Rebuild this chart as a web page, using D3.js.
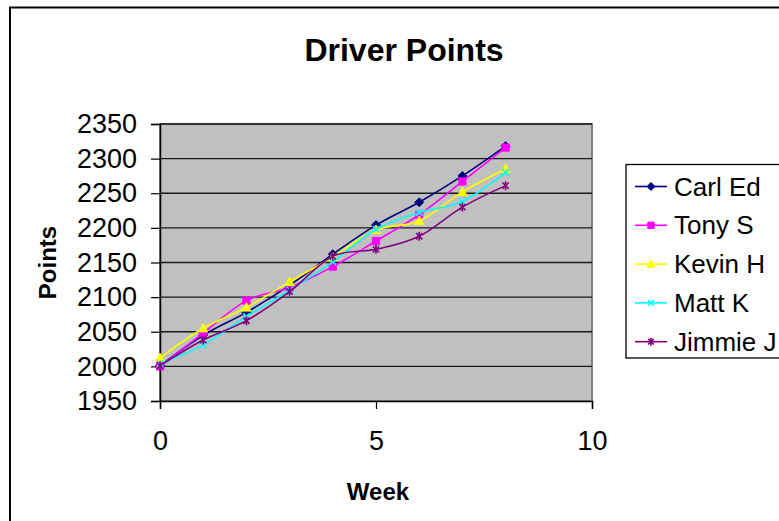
<!DOCTYPE html>
<html>
<head>
<meta charset="utf-8">
<script src="https://cdn.jsdelivr.net/npm/d3@7"></script>
<style>
  html, body { margin: 0; padding: 0; background: #fff; }
  svg { display: block; font-family: "Liberation Sans", Arial, sans-serif; }
</style>
</head>
<body>
<svg id="chart" width="779" height="521"></svg>
<script>
const weeks = [0, 1, 2, 3, 4, 5, 6, 7, 8];
const seriesNames = ["Carl Ed", "Tony S", "Kevin H", "Matt K", "Jimmie J"];
const carlEd  = [2001, 2045, 2078, 2117, 2162, 2204, 2237, 2275, 2318];
const tonyS   = [2000, 2048, 2095, 2114, 2144, 2181, 2219, 2267, 2316];
const kevinH  = [2012, 2055, 2085, 2122, 2158, 2197, 2210, 2252, 2285];
const mattK   = [2004, 2031, 2072, 2110, 2151, 2198, 2222, 2238, 2280];
const jimmieJ = [2001, 2038, 2066, 2108, 2159, 2169, 2188, 2230, 2261];
const xTicks = [0, 5, 10];
const yTicks = [1950, 2000, 2050, 2100, 2150, 2200, 2250, 2300, 2350];

const seriesValues = [carlEd, tonyS, kevinH, mattK, jimmieJ];
const colors = ["#000080", "#FF00FF", "#FFFF00", "#00FFFF", "#800080"];
const markerTypes = ["diamond", "square", "triangle", "x", "star"];

const svg = d3.select("#chart");

// outer chart border (right and bottom cut off)
svg.append("rect").attr("x", 10).attr("y", 7.5).attr("width", 900).attr("height", 600)
  .attr("fill", "#fff").attr("stroke", "#000").attr("stroke-width", 2);

const x = d3.scaleLinear().domain([0, 10]).range([160, 592]);
const y = d3.scaleLinear().domain([1950, 2350]).range([401, 124]);

// plot area
svg.append("rect").attr("x", x(0)).attr("y", y(2350)).attr("width", x(10) - x(0)).attr("height", y(1950) - y(2350))
  .attr("fill", "#C0C0C0").attr("stroke", "#808080").attr("stroke-width", 2);

// gridlines
svg.append("g").selectAll("line").data(yTicks.filter(d => d > 1950)).join("line")
  .attr("x1", x(0)).attr("x2", x(10)).attr("y1", d => y(d)).attr("y2", d => y(d))
  .attr("stroke", "#1a1a1a").attr("stroke-width", 1.3);

// y axis
const yAxis = d3.axisLeft(y).tickValues(yTicks).tickSize(9).tickPadding(14).tickFormat(d3.format("d"));
const gy = svg.append("g").attr("transform", `translate(${x(0)},0)`).call(yAxis);
gy.select(".domain").attr("stroke", "#000").attr("stroke-width", 1.5);
gy.selectAll(".tick line").attr("stroke", "#000").attr("stroke-width", 1.2);
gy.selectAll(".tick text").attr("font-size", 27).attr("fill", "#000").attr("font-family", "Liberation Sans, Arial, sans-serif");

// x axis
const xAxis = d3.axisBottom(x).tickValues(xTicks).tickSize(8).tickPadding(22).tickFormat(d3.format("d"));
const gx = svg.append("g").attr("transform", `translate(0,${y(1950)})`).call(xAxis);
gx.select(".domain").attr("stroke", "#000").attr("stroke-width", 1.5);
gx.selectAll(".tick line").attr("stroke", "#000").attr("stroke-width", 1.2);
gx.selectAll(".tick text").attr("font-size", 27).attr("fill", "#000").attr("font-family", "Liberation Sans, Arial, sans-serif");

// marker path generator
function markerPath(type, s) {
  switch (type) {
    case "diamond": return `M0,${-s}L${s},0L0,${s}L${-s},0Z`;
    case "square": return `M${-s*0.8},${-s*0.8}H${s*0.8}V${s*0.8}H${-s*0.8}Z`;
    case "triangle": return `M0,${-s*1.1}L${s},${s*0.8}L${-s},${s*0.8}Z`;
    case "x": return `M${-s*0.7},${-s*0.7}L${s*0.7},${s*0.7}M${-s*0.7},${s*0.7}L${s*0.7},${-s*0.7}`;
    case "star": return `M${-s*0.7},${-s*0.7}L${s*0.7},${s*0.7}M${-s*0.7},${s*0.7}L${s*0.7},${-s*0.7}M0,${-s}V${s}`;
  }
}

const line = d3.line().x((d, i) => x(weeks[i])).y(d => y(d)).curve(d3.curveCardinal.tension(0));

seriesValues.forEach((vals, k) => {
  const g = svg.append("g");
  g.append("path").datum(vals).attr("d", line).attr("fill", "none")
    .attr("stroke", colors[k]).attr("stroke-width", 1.6);
  const filled = markerTypes[k] !== "x" && markerTypes[k] !== "star";
  g.selectAll("path.m").data(vals).join("path").attr("class", "m")
    .attr("transform", (d, i) => `translate(${x(weeks[i])},${y(d)})`)
    .attr("d", markerPath(markerTypes[k], 4.5))
    .attr("fill", filled ? colors[k] : "none")
    .attr("stroke", colors[k]).attr("stroke-width", filled ? 1 : 1.6);
});

// title
svg.append("text").attr("x", 404).attr("y", 61).attr("text-anchor", "middle")
  .attr("font-size", 32).attr("font-weight", "bold").text("Driver Points");

// axis titles
svg.append("text").attr("x", 378).attr("y", 500).attr("text-anchor", "middle")
  .attr("font-size", 24).attr("font-weight", "bold").text("Week");
svg.append("text").attr("transform", `translate(56,${(y(1950) + y(2350)) / 2}) rotate(-90)`)
  .attr("text-anchor", "middle").attr("font-size", 24).attr("font-weight", "bold").text("Points");

// legend
const lg = svg.append("g");
lg.append("rect").attr("x", 626).attr("y", 164.5).attr("width", 300).attr("height", 193.5)
  .attr("fill", "#fff").attr("stroke", "#000").attr("stroke-width", 1.3);
seriesNames.forEach((name, k) => {
  const ly = 186.5 + k * 38.8;
  lg.append("line").attr("x1", 635).attr("x2", 667).attr("y1", ly).attr("y2", ly)
    .attr("stroke", colors[k]).attr("stroke-width", 1.6);
  const filled = markerTypes[k] !== "x" && markerTypes[k] !== "star";
  lg.append("path").attr("transform", `translate(651,${ly})`).attr("d", markerPath(markerTypes[k], 4))
    .attr("fill", filled ? colors[k] : "none").attr("stroke", colors[k]).attr("stroke-width", filled ? 1 : 1.6);
  lg.append("text").attr("x", 674).attr("y", ly).attr("dy", "0.35em")
    .attr("font-size", 26).text(name);
});
</script>
</body>
</html>
